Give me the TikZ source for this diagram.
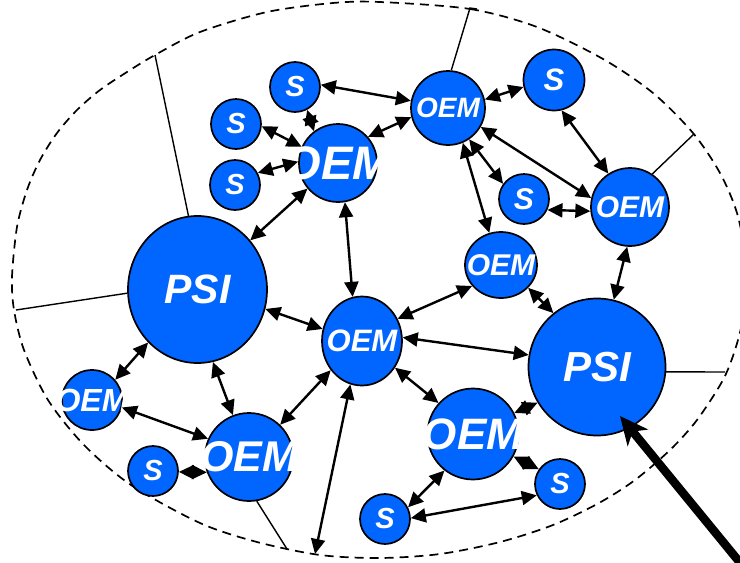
\documentclass[tikz,border=0pt]{standalone}
\usepackage{fontspec}
\setmainfont{Liberation Sans}
\usetikzlibrary{arrows.meta,shapes.geometric}
\definecolor{nodeblue}{RGB}{0,102,255}
\newcommand\fs[1]{\fontsize{#1}{#1}\selectfont\bfseries\itshape}
\begin{document}
\begin{tikzpicture}[x=1pt,y=-1pt,
  nd/.style={circle, draw=black, line width=1.7pt, fill=nodeblue, inner sep=0pt},
  nde/.style={ellipse, draw=black, line width=1.7pt, fill=nodeblue, inner sep=0pt},
  lab/.style={text=white, inner sep=0pt},
  link/.style={line width=2.4pt, {Triangle[length=15pt,width=14pt]}-{Triangle[length=15pt,width=14pt]}},
  bound/.style={line width=1.4pt},
  dashline/.style={dash pattern=on 9pt off 6pt, line width=1.7pt},
  bigarrow/.style={line width=8.5pt, -{Stealth[length=28pt,width=26pt,inset=8pt]}}
]
\useasboundingbox (0,0) rectangle (740,563);

% dashed outline
\draw[dashline] plot[smooth cycle] coordinates {
 (380,2) (470,9) (537,27) (603,59) (653,93) (693,133) (720,173) (737,213)
 (746,260) (746,300) (738,340) (724,378) (697,420) (670,450) (635,480)
 (599,503) (553,525) (500,542) (440,554) (380,558) (320,555) (257,542)
 (200,523) (131,485) (84,445) (48,400) (24,350) (14,310) (12,277) (17,227)
 (27,190) (40,160) (57,133) (77,110) (100,90) (127,72) (155,55) (200,32)
 (267,12) (333,3)};

% nodes
\node[nd, minimum size=50pt, label={[lab,font=\fs{29}]center:S}] (s1) at (295,87) {};
\node[nd, minimum size=50pt, label={[lab,font=\fs{29}]center:S}] (s2) at (236,124) {};
\node[nd, minimum size=50pt, label={[lab,font=\fs{29}]center:S}] (s3) at (235,185) {};
\node[nd, minimum size=78pt, label={[lab,font=\fs{47}]center:OEM}] (oa) at (338,163) {};
\node[nd, minimum size=74pt, label={[lab,font=\fs{28}]center:OEM}] (ob) at (448,108) {};
\node[nd, minimum size=61pt, label={[lab,font=\fs{31}]center:S}] (str) at (554,80) {};
\node[nd, minimum size=50pt, label={[lab,font=\fs{30}]center:S}] (sm) at (524,199) {};
\node[nd, minimum size=78pt, label={[lab,font=\fs{30}]center:OEM}] (ore) at (630,207) {};
\node[nde, minimum width=72pt, minimum height=66pt, label={[lab,font=\fs{30}]center:OEM}] (om) at (501,265) {};
\node[nde, minimum width=139pt, minimum height=147pt, label={[lab,font=\fs{41}]center:PSI}] (psil) at (197.5,289.5) {};
\node[nde, minimum width=80pt, minimum height=89pt, label={[lab,font=\fs{31}]center:OEM}] (oc) at (362,341) {};
\node[nd, minimum size=137pt, label={[lab,font=\fs{42}]center:PSI}] (psir) at (597,367) {};
\node[nd, minimum size=60pt, label={[lab,font=\fs{32}]center:OEM}] (osl) at (92,400) {};
\node[nd, minimum size=88pt, label={[lab,font=\fs{43}]center:OEM}] (obc) at (249,457) {};
\node[nd, minimum size=50pt, label={[lab,font=\fs{29}]center:S}] (sbl) at (153,471) {};
\node[nd, minimum size=91pt, label={[lab,font=\fs{44}]center:OEM}] (olm) at (473,434) {};
\node[nd, minimum size=50pt, label={[lab,font=\fs{29}]center:S}] (slr) at (560,484) {};
\node[nd, minimum size=50pt, label={[lab,font=\fs{29}]center:S}] (sb) at (385,519) {};

% boundary lines
\coordinate (e1) at (155,55);
\coordinate (e2) at (470,8);
\coordinate (e2b) at (477,9);
\coordinate (e3) at (694,134);
\coordinate (e4) at (16,310);
\coordinate (e5) at (725,372);
\coordinate (e6) at (287,549);
\draw[bound] (psil.97) -- (e1);
\draw[bound] (ob.85) -- (e2) -- (e2b);
\draw[bound] (ore.56) -- (e3);
\draw[bound] (psil.183) -- (e4);
\draw[bound] (psir.-4) -- (e5);
\draw[bound] (obc.-80) -- (e6);

% links
\coordinate (bot) at (315,554);
\draw[link] (s1.5) -- (ob.169);
\draw[link] (s1.-62) -- (oa.127);
\draw[link] (s2.-5) -- (oa.156);
\draw[link] (s3.28) -- (oa.178);
\draw[link] (psil.43) -- (oa.220);
\draw[link] (oa.41) -- (ob.194);
\draw[link] (ob.13) -- (str.193);
\draw[link] (ob.-56) -- (sm.144);
\draw[link] (ob.-30) -- (ore.167);
\draw[link] (ob.-67) -- (om.110);
\draw[link] (str.-76) -- (ore.123);
\draw[link] (sm.-25) -- (ore.186);
\draw[link] (ore.-94) -- (psir.76);
\draw[link] (oa.-80) -- (oc.102);
\draw[link] (psil.-16) -- (oc.163);
\draw[link] (oc.32) -- (om.216);
\draw[link] (om.-40) -- (psir.129);
\draw[link] (oc.5) -- (psir.170);
\draw[link] (oc.-39) -- (olm.138);
\draw[link] (olm.27) -- (psir.211);
\draw[link] (olm.-29) -- (slr.145);
\draw[link] (olm.232) -- (sb.27);
\draw[link] (sb.2) -- (slr.206);
\draw[link] (oc.255) -- (bot);
\draw[link] (oc.223) -- (obc.46);
\draw[link] (psil.-78) -- (obc.111);
\draw[link] (psil.227) -- (osl.41);
\draw[link] (osl.-14) -- (obc.156);
\draw[link] (sbl.-2) -- (obc.200);

% thick pointer
\coordinate (corner) at (746,570);
\draw[bigarrow] (corner) -- ([shift={(23,49)}]psir.center);
\end{tikzpicture}
\end{document}
